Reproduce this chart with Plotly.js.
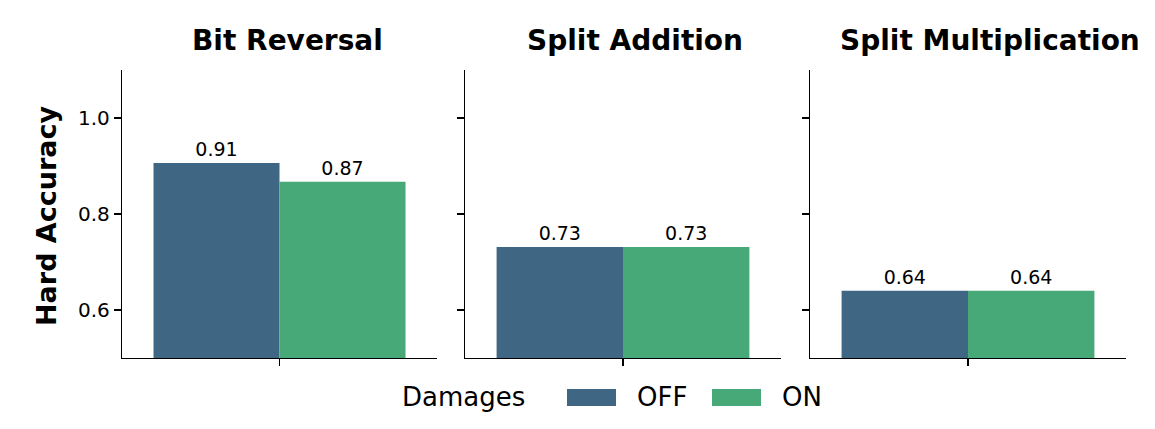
<!DOCTYPE html>
<html>
<head>
<meta charset="utf-8">
<script src="https://cdn.plot.ly/plotly-3.0.1.min.js"></script>
<style>
  html, body { margin: 0; padding: 0; background: #fff; }
  #chart { width: 1155px; height: 429px; }
</style>
</head>
<body>
<div id="chart"></div>
<script>
const tasks = ["Bit Reversal", "Split Addition", "Split Multiplication"];
const damages = ["OFF", "ON"];
const offValues = [0.906, 0.731, 0.640];
const onValues = [0.867, 0.731, 0.640];
const offLabels = ["0.91", "0.73", "0.64"];
const onLabels = ["0.87", "0.73", "0.64"];
const yTicks = [0.6, 0.8, 1.0];
const yTickText = ["0.6", "0.8", "1.0"];

const colors = { OFF: "#3f6682", ON: "#47a878" };
const font = "DejaVu Sans";
const W = 1155;
const H = 429;

// panel pixel boxes
const panelX = [[122, 437], [465, 781], [810, 1126]];
// title centres sit a little right of the panel centres in the picture
const titleX = [287.5, 634.5, 990];
const yDomain = [(H - 358) / H, (H - 70) / H];

const traces = [];
tasks.forEach((task, i) => {
  const axisSuffix = i === 0 ? "" : String(i + 1);
  [[offValues, offLabels, "OFF"], [onValues, onLabels, "ON"]].forEach(([vals, labels, name]) => {
    traces.push({
      type: "bar",
      x: [0],
      y: [vals[i]],
      base: 0,
      name: name,
      offsetgroup: name,
      marker: { color: colors[name], line: { width: 0 } },
      text: [labels[i]],
      textposition: "outside",
      textfont: { family: font, size: 19, color: "#000" },
      cliponaxis: false,
      showlegend: false,
      hoverinfo: "skip",
      xaxis: "x" + axisSuffix,
      yaxis: "y" + axisSuffix,
    });
  });
});

const layout = {
  width: W,
  height: H,
  margin: { l: 0, r: 0, t: 0, b: 0 },
  paper_bgcolor: "#fff",
  plot_bgcolor: "#fff",
  barmode: "group",
  bargap: 0.2,
  bargroupgap: 0,
  showlegend: false,
  font: { family: font, size: 19, color: "#000" },
  annotations: [],
  shapes: [],
};

tasks.forEach((task, i) => {
  const suffix = i === 0 ? "" : String(i + 1);
  const dom = [panelX[i][0] / W, panelX[i][1] / W];
  layout["xaxis" + suffix] = {
    domain: dom,
    range: [-0.5, 0.5],
    anchor: "y" + suffix,
    tickvals: [0],
    ticktext: [""],
    ticks: "outside",
    ticklen: 7,
    tickwidth: 1.25,
    tickcolor: "#000",
    showline: true,
    linecolor: "#000",
    linewidth: 1.25,
    showgrid: false,
    zeroline: false,
    fixedrange: true,
  };
  layout["yaxis" + suffix] = {
    domain: yDomain,
    range: [0.5, 1.1],
    anchor: "x" + suffix,
    tickvals: yTicks,
    ticktext: i === 0 ? yTickText : ["", "", ""],
    ticks: "outside",
    ticklen: 7,
    tickwidth: 1.25,
    tickcolor: "#000",
    tickfont: { family: font, size: 20, color: "#000" },
    showline: true,
    linecolor: "#000",
    linewidth: 1.25,
    showgrid: false,
    zeroline: false,
    fixedrange: true,
  };
  layout.annotations.push({
    text: "<b>" + task + "</b>",
    xref: "paper",
    yref: "paper",
    x: titleX[i] / W,
    y: 1 - 41 / H,
    xanchor: "center",
    yanchor: "middle",
    showarrow: false,
    font: { family: font, size: 28, color: "#000" },
  });
});

// y axis title
layout.annotations.push({
  text: "<b>Hard Accuracy</b>",
  xref: "paper", yref: "paper",
  x: 46 / W, y: 1 - 216 / H,
  xanchor: "center", yanchor: "middle",
  textangle: -90,
  showarrow: false,
  font: { family: font, size: 27, color: "#000" },
});

// legend drawn below the panels
const legendY = 1 - 397 / H;
layout.annotations.push({
  text: "Damages",
  xref: "paper", yref: "paper",
  x: 400 / W, y: legendY,
  xanchor: "left", yanchor: "middle",
  showarrow: false,
  font: { family: font, size: 26, color: "#000" },
});
const patchX = [567, 712];
damages.forEach((name, k) => {
  layout.shapes.push({
    type: "rect",
    xref: "paper", yref: "paper",
    x0: patchX[k] / W, x1: (patchX[k] + 49) / W,
    y0: 1 - 406 / H, y1: 1 - 389 / H,
    fillcolor: colors[name],
    line: { width: 0 },
  });
  layout.annotations.push({
    text: name,
    xref: "paper", yref: "paper",
    x: (patchX[k] + 68) / W, y: legendY,
    xanchor: "left", yanchor: "middle",
    showarrow: false,
    font: { family: font, size: 26, color: "#000" },
  });
});

Plotly.newPlot("chart", traces, layout, { staticPlot: true, displayModeBar: false });
</script>
</body>
</html>
